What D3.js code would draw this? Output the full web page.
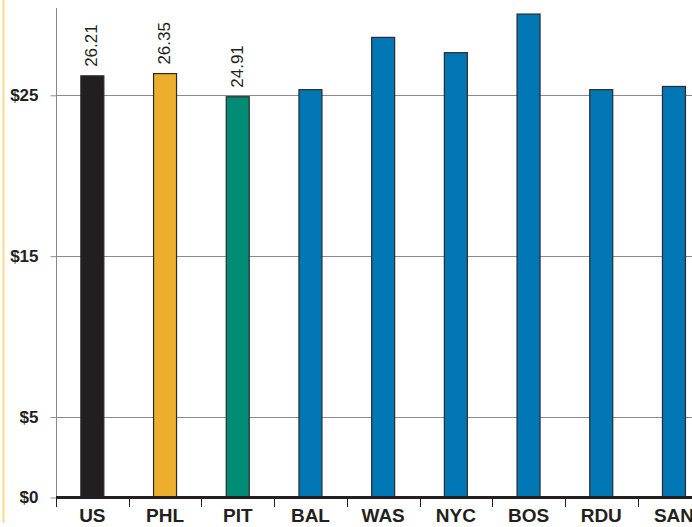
<!DOCTYPE html>
<html><head><meta charset="utf-8">
<script src="https://cdn.jsdelivr.net/npm/d3@7"></script>
<style>
body{margin:0;background:#fff;}
svg{display:block;}
text{font-family:"Liberation Sans Narrow","Arial Narrow","Liberation Sans",Arial,sans-serif;}
</style></head><body>
<svg id="c" width="692" height="527"></svg>
<script>
const categories = ["US","PHL","PIT","BAL","WAS","NYC","BOS","RDU","SAN"];
const values = [26.21, 26.35, 24.91, 25.35, 28.6, 27.65, 30.05, 25.35, 25.55];
const barColors = ["#231f20","#edae2b","#008b75","#0077b5","#0077b5","#0077b5","#0077b5","#0077b5","#0077b5"];
const labelShown = [true, true, true, false, false, false, false, false, false];
const yTicks = [0, 5, 15, 25];
const yTickLabels = ["$0","$5","$15","$25"];

const svg = d3.select("#c");
const x0 = 56, step = 72.7;
const x = d3.scaleBand().domain(categories).range([x0, x0 + step*categories.length]).padding(0);
const y = d3.scaleLinear().domain([0, 25]).range([497.5, 95.3]);

// left orange border
svg.append("rect").attr("x",2.5).attr("y",0).attr("width",2).attr("height",523).attr("fill","#fcd98a");

// gridlines
svg.append("g").selectAll("line").data(yTicks.filter(d=>d>0)).join("line")
  .attr("x1", x0).attr("x2", 692)
  .attr("y1", d=>Math.round(y(d))+0.5).attr("y2", d=>Math.round(y(d))+0.5)
  .attr("stroke","#8a8a8a").attr("stroke-width",1);

// y axis
const yAxis = d3.axisLeft(y).tickValues(yTicks).tickSize(6).tickPadding(12)
  .tickFormat((d,i)=>yTickLabels[i]);
const gy = svg.append("g").attr("transform",`translate(${x0+0.5},0)`).call(yAxis);
gy.select(".domain").attr("d", `M0,8V497`).attr("stroke","#8a8a8a");
gy.selectAll(".tick line").attr("stroke","#8a8a8a");
gy.selectAll(".tick text").attr("font-size",17).attr("font-weight","bold").attr("fill","#231f20")
  .attr("font-family",'"Liberation Sans Narrow","Arial Narrow",Arial,sans-serif');

// bars
const bw = 23;
svg.append("g").selectAll("rect").data(categories).join("rect")
  .attr("x", d=>x(d)+x.bandwidth()/2-bw/2)
  .attr("y", (d,i)=>y(values[i]))
  .attr("width", bw)
  .attr("height", (d,i)=>y(0)-y(values[i]))
  .attr("fill",(d,i)=>barColors[i])
  .attr("stroke","#2a2a2a").attr("stroke-width",1.2);

// value labels
svg.append("g").selectAll("text").data(categories.filter((d,i)=>labelShown[i])).join("text")
  .attr("transform", d=>{const i=categories.indexOf(d);return `translate(${x(d)+x.bandwidth()/2+5},${y(values[i])-9}) rotate(-90)`;})
  .attr("font-size",17).attr("fill","#231f20")
  .text(d=>values[categories.indexOf(d)].toFixed(2));

// x axis
const xAxis = d3.axisBottom(x).tickSize(0).tickPadding(11);
const gx = svg.append("g").attr("transform",`translate(0,497.5)`).call(xAxis);
gx.select(".domain").remove();
gx.selectAll(".tick text").attr("font-size",19).attr("font-weight","bold").attr("fill","#231f20")
  .attr("font-family",'"Liberation Sans Narrow","Arial Narrow",Arial,sans-serif');
svg.append("line").attr("x1",x0).attr("x2",692).attr("y1",497.5).attr("y2",497.5)
  .attr("stroke","#231f20").attr("stroke-width",3.2);
// category boundary ticks
svg.append("g").selectAll("line").data(categories).join("line")
  .attr("x1",d=>Math.round(x(d))+0.5).attr("x2",d=>Math.round(x(d))+0.5)
  .attr("y1",498).attr("y2",507).attr("stroke","#231f20").attr("stroke-width",1);
</script></body></html>
